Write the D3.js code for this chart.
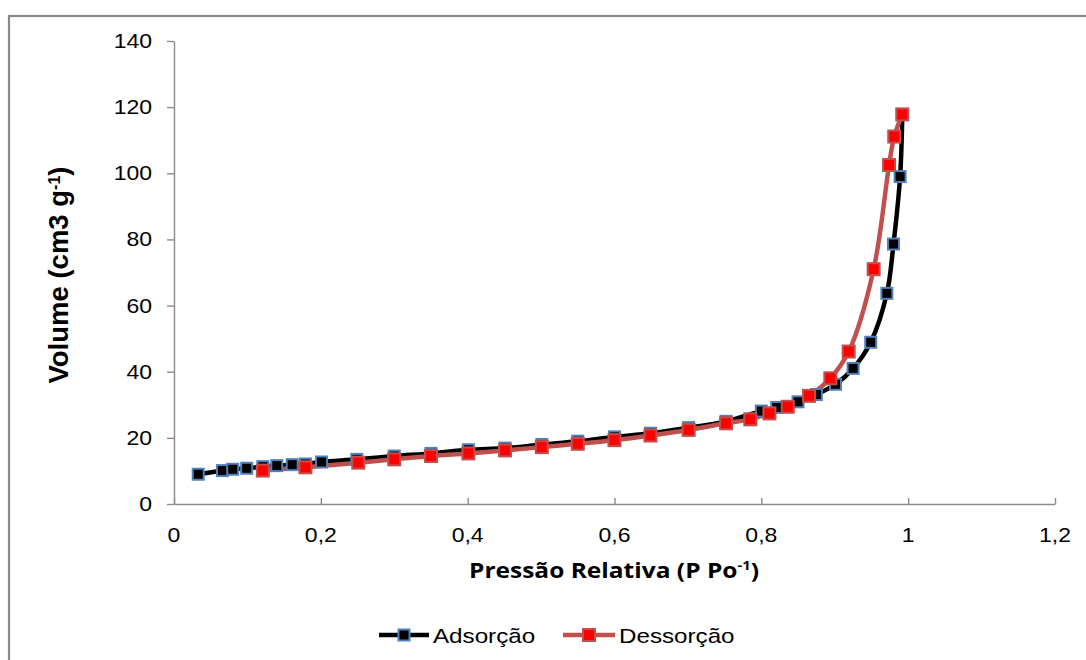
<!DOCTYPE html>
<html>
<head>
<meta charset="utf-8">
<script src="https://cdn.jsdelivr.net/npm/d3@7"></script>
<style>
  html, body { margin: 0; padding: 0; background: #fff; }
  svg { display: block; }
</style>
</head>
<body>
<svg id="chart" width="1086" height="660"></svg>
<script>
// Relative pressure (P/Po) and adsorbed volume (cm3/g) for the isotherm
const adsX = [0.033, 0.066, 0.080, 0.099, 0.121, 0.140, 0.161, 0.179, 0.201, 0.249,
              0.300, 0.350, 0.401, 0.451, 0.501, 0.550, 0.600, 0.649, 0.701, 0.752,
              0.800, 0.821, 0.850, 0.875, 0.901, 0.925, 0.949, 0.971, 0.980, 0.989, 0.992];
const adsY = [9.0, 10.1, 10.5, 10.8, 11.3, 11.6, 11.9, 12.1, 12.7, 13.5,
              14.5, 15.3, 16.4, 16.9, 18.0, 19.0, 20.3, 21.4, 23.1, 25.0,
              28.1, 29.2, 30.9, 33.1, 36.2, 41.0, 48.9, 63.7, 78.6, 99.0, 117.8];

const desX = [0.992, 0.981, 0.974, 0.953, 0.919, 0.894, 0.865, 0.836, 0.811, 0.785,
              0.752, 0.701, 0.649, 0.600, 0.550, 0.501, 0.451, 0.401, 0.350, 0.300,
              0.251, 0.179, 0.121];
const desY = [117.8, 111.1, 102.5, 71.0, 46.1, 38.0, 32.7, 29.4, 27.4, 25.6,
              24.4, 22.4, 20.7, 19.3, 18.2, 17.2, 16.2, 15.3, 14.5, 13.5,
              12.5, 11.1, 10.1];

const xTicks = [0, 0.2, 0.4, 0.6, 0.8, 1, 1.2];
const yTicks = [0, 20, 40, 60, 80, 100, 120, 140];
const seriesNames = ["Adsorção", "Dessorção"];

const svg = d3.select("#chart");
const FONT = "'Liberation Sans', Arial, sans-serif";
const SX = 1.18; // horizontal stretch applied to text glyphs

const x = d3.scaleLinear().domain([0, 1.2]).range([174, 1055]);
const y = d3.scaleLinear().domain([0, 140]).range([504, 41]);

// outer chart frame
svg.append("rect")
  .attr("x", 9).attr("y", 16).attr("width", 1100).attr("height", 700)
  .attr("fill", "none").attr("stroke", "#8a8a8a").attr("stroke-width", 2.2);

function label(g, px, py, str, size, anchor, weight, family, sx) {
  const t = g.append("g").attr("transform", `translate(${px},${py}) scale(${sx || SX},1)`)
    .append("text")
    .attr("text-anchor", anchor)
    .attr("font-family", family || FONT)
    .attr("font-size", size)
    .attr("font-weight", weight || "normal")
    .attr("fill", "#000");
  return t.text(str);
}

const fmt = d => String(d).replace(".", ",");

// axes drawn with d3-axis, styled as grey lines
const axisColor = "#8c8c8c";
const gx = svg.append("g").attr("transform", "translate(0,504)")
  .call(d3.axisTop(x).tickValues(xTicks).tickSize(6).tickSizeOuter(0).tickFormat(""));
const gy = svg.append("g").attr("transform", "translate(174,0)")
  .call(d3.axisLeft(y).tickValues(yTicks).tickSize(7).tickSizeOuter(0).tickFormat(""));
[gx, gy].forEach(g => {
  g.select(".domain").attr("stroke", axisColor).attr("stroke-width", 1.4);
  g.selectAll(".tick line").attr("stroke", axisColor).attr("stroke-width", 1.4);
});

const labels = svg.append("g");
xTicks.forEach(v => label(labels, x(v), 542, fmt(v), 19.5, "middle"));
yTicks.forEach(v => label(labels, 152, y(v) + 7, fmt(v), 19.5, "end"));

// axis titles
const xt = label(labels, 614, 578, "Pressão Relativa (P Po", 21.5, "middle", "bold", "'Open Sans', sans-serif", 1.14);
xt.append("tspan").attr("baseline-shift", "super").attr("font-size", 13).text("-1");
xt.append("tspan").text(")");

const yt = svg.append("g").attr("transform", "translate(68,275) rotate(-90)")
  .append("text")
  .attr("text-anchor", "middle")
  .attr("font-family", FONT).attr("font-weight", "bold").attr("font-size", 27.5)
  .text("Volume (cm3 g");
yt.append("tspan").attr("baseline-shift", "super").attr("font-size", 16).text("-1");
yt.append("tspan").text(")");

// series
const adsData = adsX.map((d, i) => [d, adsY[i]]);
const desData = desX.map((d, i) => [d, desY[i]]).sort((a, b) => a[0] - b[0]);

const line = d3.line().x(d => x(d[0])).y(d => y(d[1])).curve(d3.curveCatmullRom.alpha(0.5));

const styles = [
  { data: adsData, line: "#000000", fill: "#000000", stroke: "#4f81bd", size: 11 },
  { data: desData, line: "#c0504d", fill: "#ff0000", stroke: "#c0504d", size: 12 }
];

styles.forEach(s => {
  svg.append("path").datum(s.data)
    .attr("d", line).attr("fill", "none")
    .attr("stroke", s.line).attr("stroke-width", 4.5).attr("stroke-linejoin", "round");
});
styles.forEach(s => {
  svg.append("g").selectAll("rect").data(s.data).join("rect")
    .attr("x", d => x(d[0]) - s.size / 2).attr("y", d => y(d[1]) - s.size / 2)
    .attr("width", s.size).attr("height", s.size)
    .attr("fill", s.fill).attr("stroke", s.stroke).attr("stroke-width", 2);
});

// legend
const legend = svg.append("g");
const legendItems = [
  { x0: 379, x1: 429, tx: 433 },
  { x0: 563, x1: 615, tx: 619 }
];
legendItems.forEach((it, i) => {
  const s = styles[i];
  legend.append("line").attr("x1", it.x0).attr("x2", it.x1).attr("y1", 635).attr("y2", 635)
    .attr("stroke", s.line).attr("stroke-width", 4.5);
  const m = (it.x0 + it.x1) / 2;
  legend.append("rect").attr("x", m - s.size / 2).attr("y", 635 - s.size / 2)
    .attr("width", s.size).attr("height", s.size)
    .attr("fill", s.fill).attr("stroke", s.stroke).attr("stroke-width", 2);
  label(legend, it.tx, 643, seriesNames[i], 20.5, "start");
});
</script>
</body>
</html>
